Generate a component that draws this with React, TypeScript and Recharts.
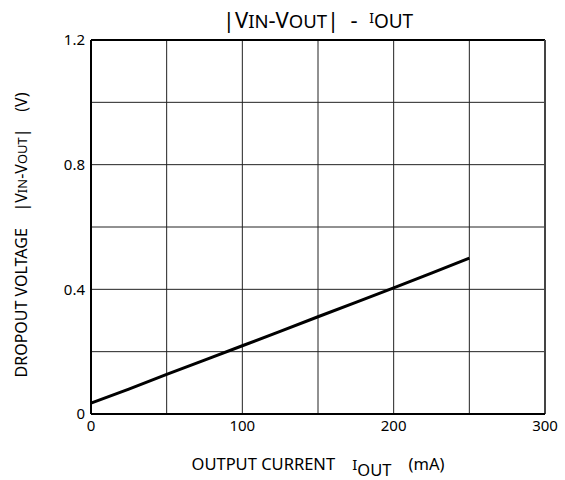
import React from 'react';
import {
  LineChart, Line, XAxis, YAxis, CartesianGrid, ReferenceLine, Label
} from 'recharts';

// dropout voltage vs output current
const currentMa = [0, 25, 50, 75, 100, 125, 150, 175, 200, 225, 250];
const dropoutV = [0.035, 0.08, 0.127, 0.173, 0.219, 0.265, 0.312, 0.358, 0.405, 0.452, 0.5];

const xTicks = [0, 50, 100, 150, 200, 250, 300];
const yTicks = [0, 0.2, 0.4, 0.6, 0.8, 1.0, 1.2];

const data = currentMa.map((c, i) => ({ current: c, vdrop: dropoutV[i] }));

const FONT = '"Noto Sans", "DejaVu Sans", sans-serif';

const fmtX = (v: number) => (v % 100 === 0 ? String(v) : '');
const fmtY = (v: number) => {
  const k = Math.round(v * 10);
  if (k % 4 !== 0) return '';
  return k === 0 ? '0' : v.toFixed(1);
};

const YLabel = () => {
  const cx = 27;
  const cy = 235;
  return (
    <text
      x={cx} y={cy}
      transform={`rotate(-90 ${cx} ${cy})`}
      textAnchor="middle"
      fontFamily={FONT} fontSize={16} fill="#000" style={{ whiteSpace: 'pre' }}
    >
      <tspan>DROPOUT VOLTAGE    |V</tspan>
      <tspan fontSize={13}>IN</tspan>
      <tspan>-V</tspan>
      <tspan fontSize={13}>OUT</tspan>
      <tspan>|    (V)</tspan>
    </text>
  );
};

const XLabel = () => (
  <text
    x={318} y={470} textAnchor="middle"
    fontFamily={FONT} fontSize={16.5} fill="#000" style={{ whiteSpace: 'pre' }}
  >
    <tspan>OUTPUT CURRENT    </tspan>
    <tspan fontSize={15}>I</tspan>
    <tspan dy={6}>OUT</tspan>
    <tspan dy={-6}>    (mA)</tspan>
  </text>
);

export default function App() {
  return (
    <div style={{ position: 'absolute', left: 0, top: 0, width: 565, height: 480, background: '#fff' }}>
      <svg width={565} height={40} style={{ position: 'absolute', left: 0, top: 0 }}>
        <text x={318} y={28} textAnchor="middle" fontFamily={FONT} fontSize={22} fill="#000" style={{ whiteSpace: 'pre' }}>
          <tspan>|V</tspan>
          <tspan fontSize={18.5}>IN</tspan>
          <tspan>-V</tspan>
          <tspan fontSize={18.5}>OUT</tspan>
          <tspan>|  -  </tspan>
          <tspan fontSize={14} dy={-5}>I</tspan>
          <tspan fontSize={19} dy={5}>OUT</tspan>
        </text>
      </svg>
      <LineChart
        width={565} height={480} data={data}
        margin={{ top: 40, right: 20, bottom: 0, left: 0 }}
      >
        <CartesianGrid stroke="#222" strokeWidth={1} horizontal vertical />
        <XAxis
          dataKey="current" type="number" domain={[0, 300]} ticks={xTicks}
          tickFormatter={fmtX} interval={0} height={66}
          tick={{ fill: '#000', fontSize: 15, fontFamily: FONT }}
          tickLine={false} tickSize={4}
          axisLine={{ stroke: '#000', strokeWidth: 2 }}
        >
          <Label content={<XLabel />} />
        </XAxis>
        <YAxis
          dataKey="vdrop" type="number" domain={[0, 1.2]} ticks={yTicks}
          tickFormatter={fmtY} interval={0} width={91}
          tick={{ fill: '#000', fontSize: 15, fontFamily: FONT }}
          tickLine={false} tickSize={4}
          axisLine={{ stroke: '#000', strokeWidth: 2 }}
        >
          <Label content={<YLabel />} />
        </YAxis>
        <ReferenceLine y={1.2} stroke="#000" strokeWidth={2} />
        <ReferenceLine x={300} stroke="#444" strokeWidth={2} />
        <Line
          type="linear" dataKey="vdrop" stroke="#000" strokeWidth={3}
          dot={false} activeDot={false} isAnimationActive={false}
        />
      </LineChart>
    </div>
  );
}
